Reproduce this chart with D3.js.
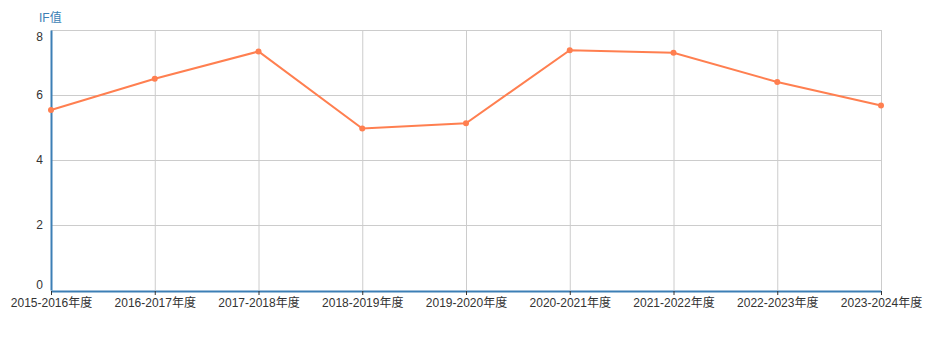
<!DOCTYPE html>
<html lang="zh">
<head>
<meta charset="utf-8">
<title>IF值</title>
<script src="https://cdn.jsdelivr.net/npm/d3@7"></script>
<style>
  body { margin: 0; background: #fff; }
  text { font-family: Arial, "Liberation Sans", "Noto Sans CJK SC", sans-serif; }
</style>
</head>
<body>
<script>
// data
var years = ["2015-2016年度", "2016-2017年度", "2017-2018年度", "2018-2019年度", "2019-2020年度",
             "2020-2021年度", "2021-2022年度", "2022-2023年度", "2023-2024年度"];
var ifValues = [5.54, 6.50, 7.34, 4.97, 5.13, 7.38, 7.30, 6.40, 5.68];
var yTicks = [0, 2, 4, 6, 8];

var width = 941, height = 345;
var margin = {top: 30, right: 60, bottom: 55, left: 51};
var axisColor = "#3c7fb5", lineColor = "#ff7f50";

var svg = d3.select("body").append("svg")
  .attr("width", width)
  .attr("height", height);

var x = d3.scalePoint()
  .domain(years)
  .range([margin.left, width - margin.right]);

var y = d3.scaleLinear()
  .domain([0, 8])
  .range([height - margin.bottom, margin.top]);

// grid
svg.append("g").selectAll("line.h")
  .data(yTicks.filter(function(d){ return d > 0; }))
  .enter().append("line")
  .attr("x1", margin.left).attr("x2", width - margin.right)
  .attr("y1", function(d){ return y(d) + 0.5; })
  .attr("y2", function(d){ return y(d) + 0.5; })
  .attr("stroke", "#ccc");

svg.append("g").selectAll("line.v")
  .data(years.slice(1))
  .enter().append("line")
  .attr("x1", function(d){ return x(d) + 0.5; })
  .attr("x2", function(d){ return x(d) + 0.5; })
  .attr("y1", margin.top).attr("y2", height - margin.bottom)
  .attr("stroke", "#ccc");

// x axis
var xAxis = svg.append("g")
  .attr("transform", "translate(0," + (height - margin.bottom + 1) + ")")
  .call(d3.axisBottom(x).tickSize(4).tickSizeOuter(0));
xAxis.select(".domain").attr("stroke", axisColor).attr("stroke-width", 2);
xAxis.selectAll(".tick line").attr("stroke", "#333");
xAxis.selectAll(".tick text")
  .attr("y", 7)
  .attr("fill", "#333")
  .style("font-size", "12px");

// y axis
var yAxis = svg.append("g")
  .attr("transform", "translate(" + margin.left + ",0)")
  .call(d3.axisLeft(y).tickValues(yTicks).tickSize(0).tickSizeOuter(0));
yAxis.select(".domain").attr("stroke", axisColor).attr("stroke-width", 2);
yAxis.selectAll(".tick text")
  .attr("x", -8)
  .attr("dy", function(d){ return d === 8 ? "0.85em" : d === 0 ? "-0.15em" : "0.32em"; })
  .attr("fill", "#333")
  .style("font-size", "12px");

svg.append("text")
  .attr("x", 39).attr("y", 22)
  .attr("fill", axisColor)
  .style("font-size", "12px")
  .text("IF值");

// line
var line = d3.line()
  .x(function(d, i){ return x(years[i]); })
  .y(function(d){ return y(d); });

svg.append("path")
  .datum(ifValues)
  .attr("fill", "none")
  .attr("stroke", lineColor)
  .attr("stroke-width", 2)
  .attr("d", line);

svg.selectAll("circle.pt")
  .data(ifValues)
  .enter().append("circle")
  .attr("cx", function(d, i){ return x(years[i]); })
  .attr("cy", function(d){ return y(d); })
  .attr("r", 3)
  .attr("fill", lineColor);
</script>
</body>
</html>
